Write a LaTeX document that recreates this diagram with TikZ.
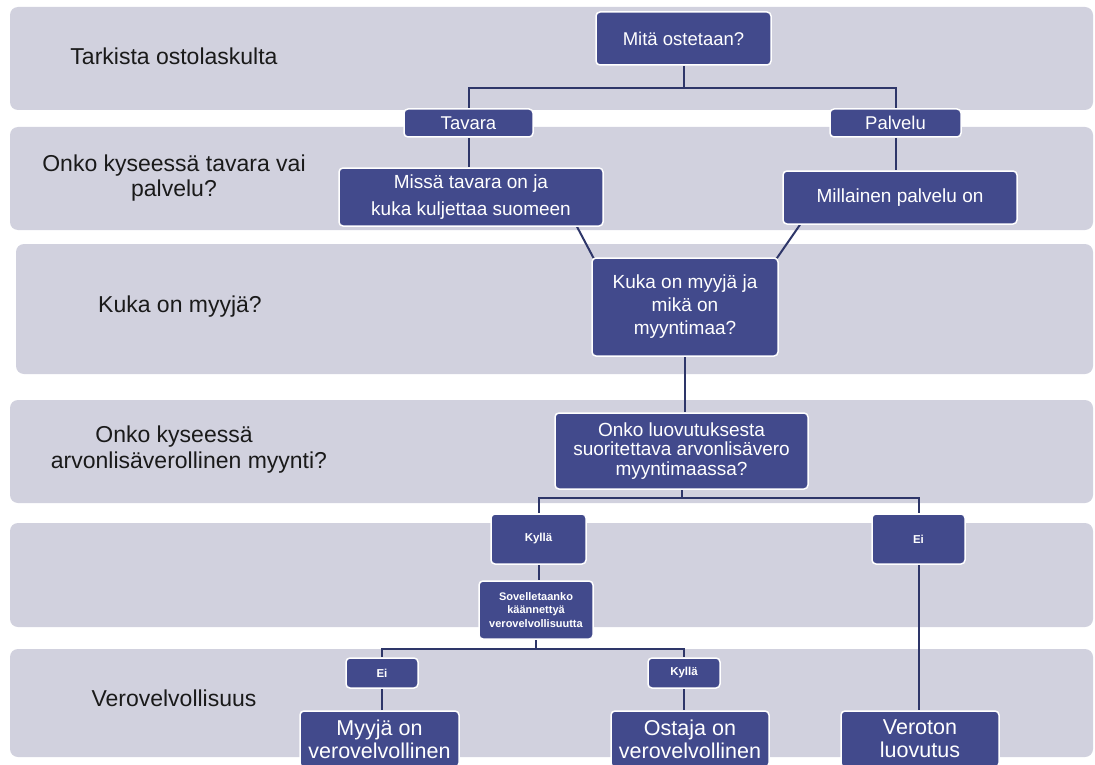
\documentclass[tikz,border=0pt]{standalone}
\usepackage{fontspec}
\setmainfont{Liberation Sans}
\definecolor{bandgray}{HTML}{D1D1DE}
\definecolor{nodeblue}{HTML}{424A8C}
\definecolor{wirecol}{HTML}{2E3669}
\definecolor{labeltext}{HTML}{1A1A1A}
\newcommand\setfs[2]{\fontsize{#1}{#2}\selectfont}
\pgfdeclarelayer{bands}
\pgfdeclarelayer{wires}
\pgfsetlayers{bands,wires,main}
\begin{document}
\begin{tikzpicture}[x=1pt,y=-1pt,
  bandbox/.style={fill=bandgray, rounded corners=8pt},
  qbox/.style={draw=white, line width=1.5pt, fill=nodeblue, rounded corners=4pt,
               text=white, align=center, inner sep=0pt},
  link/.style={draw=wirecol, line width=2pt},
  lab/.style={text=labeltext, font=\setfs{23}{25}, align=center, inner sep=0pt}]
\useasboundingbox (0,0) rectangle (1095,765);
\clip (0,0) rectangle (1095,765);

% horizontal bands
\begin{pgfonlayer}{bands}
\fill[bandbox] (10,7) rectangle (1093,110);
\fill[bandbox] (10,127) rectangle (1093,230);
\fill[bandbox] (16,244) rectangle (1093,374);
\fill[bandbox] (10,400) rectangle (1093,503);
\fill[bandbox] (10,523) rectangle (1093,627);
\fill[bandbox] (10,649) rectangle (1093,757);
\end{pgfonlayer}

% band labels
\node[lab] (l1) at (174,56) {Tarkista ostolaskulta};
\node[lab] (l2) at (174,178) {Onko kyseessä tavara vai\\palvelu?};
\node[lab] (l3) at (180,307) {Kuka on myyjä?};
\node[lab] (l4a) at (174,437) {Onko kyseessä};
\node[lab] (l4b) at (189,463) {arvonlisäverollinen myynti?};
\node[lab] (l6) at (174,698) {Verovelvollisuus};

% decision boxes
\node[qbox, minimum width=175, minimum height=53, font=\setfs{18.5}{22}] (mita) at (683.5,38.5) {Mitä ostetaan?};
\node[qbox, minimum width=129, minimum height=28, font=\setfs{18.5}{22}] (tavara) at (468.5,123) {Tavara};
\node[qbox, minimum width=131, minimum height=28, font=\setfs{18.5}{22}] (palvelu) at (895.5,123) {Palvelu};
\node[qbox, minimum width=264, minimum height=58, font=\setfs{19}{27}] (missa) at (471,197) {Missä tavara on ja\\kuka kuljettaa suomeen};
\node[qbox, minimum width=234, minimum height=53, font=\setfs{19}{23}] (millainen) at (900,197.5) {Millainen palvelu on};
\node[qbox, minimum width=186, minimum height=98, font=\setfs{19}{23}] (kuka) at (685,307) {Kuka on myyjä ja\\mikä on\\myyntimaa?};
\node[qbox, minimum width=253, minimum height=76, font=\setfs{19}{19.5}] (onko) at (681.5,451) {Onko luovutuksesta\\suoritettava arvonlisävero\\myyntimaassa?};
\node[qbox, minimum width=95, minimum height=50, font=\bfseries\setfs{11.5}{13.5}] (kylla) at (538.5,539) {Kyllä};
\node[qbox, minimum width=93, minimum height=50, font=\bfseries\setfs{11.5}{13.5}] (ei) at (918.5,539) {Ei};
\node[qbox, minimum width=114, minimum height=58, font=\bfseries\setfs{11}{13.5}] (sov) at (536,610) {Sovelletaanko\\käännettyä\\verovelvollisuutta};
\node[qbox, minimum width=72, minimum height=30, font=\bfseries\setfs{11.5}{13.5}] (ei2) at (382,673) {Ei};
\node[qbox, minimum width=72, minimum height=30, font=\bfseries\setfs{11.5}{13.5}] (kylla2) at (684,673) {Kyllä};
\node[qbox, minimum width=159, minimum height=56, font=\setfs{21.5}{23}] (myyja) at (379.5,739) {Myyjä on\\verovelvollinen};
\node[qbox, minimum width=158, minimum height=56, font=\setfs{21.5}{23}] (ostaja) at (690,739) {Ostaja on\\verovelvollinen};
\node[qbox, minimum width=158, minimum height=56, font=\setfs{21.5}{23}] (veroton) at (920,739) {Veroton\\luovutus};

% connectors, drawn beneath the boxes
\path (mita.south) ++(0,22) coordinate (j1);
\path (onko.south) ++(0,8) coordinate (j2);
\path (sov.south) ++(0,9) coordinate (j3);
\begin{pgfonlayer}{wires}
\draw[link] (mita.south) -- (j1);
\draw[link] (tavara.north) |- (j1) -| (palvelu.north);
\draw[link] (tavara.south) -- (tavara.south |- missa.north);
\draw[link] (palvelu.south) -- (palvelu.south |- millainen.north);
\draw[link] ([xshift=106pt]missa.south) -- ([xshift=4pt,yshift=-4pt]kuka.north west);
\draw[link] ([xshift=-100pt]millainen.south) -- ([xshift=-4pt,yshift=-4pt]kuka.north east);
\draw[link] (kuka.south) -- (kuka.south |- onko.north);
\draw[link] (onko.south) -- (j2);
\draw[link] (kylla.north) |- (j2) -| (ei.north);
\draw[link] (kylla.south) -- (kylla.south |- sov.north);
\draw[link] (sov.south) -- (j3);
\draw[link] (ei2.north) |- (j3) -| (kylla2.north);
\draw[link] (ei2.south) -- (ei2.south |- myyja.north);
\draw[link] (kylla2.south) -- (kylla2.south |- ostaja.north);
\draw[link] (ei.south) -- (ei.south |- veroton.north);
\end{pgfonlayer}
\end{tikzpicture}
\end{document}
